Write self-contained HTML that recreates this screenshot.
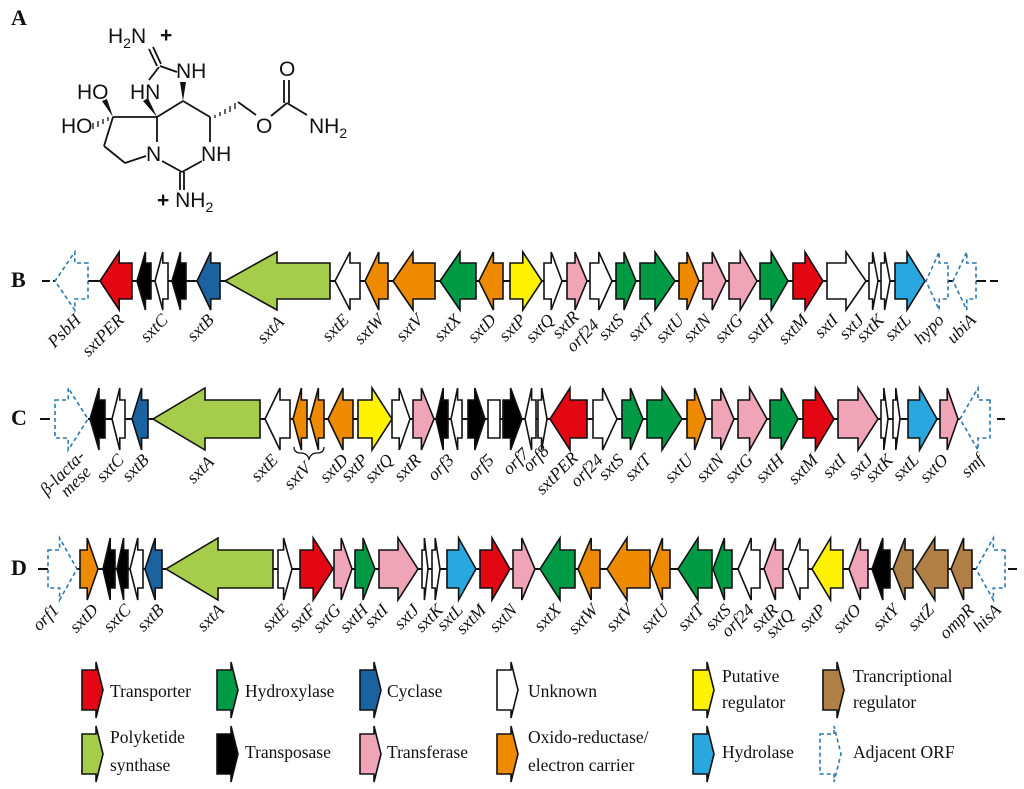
<!DOCTYPE html>
<html><head><meta charset="utf-8">
<style>
html,body{margin:0;padding:0;background:#fff;}
svg{display:block;}
.l{font-family:"Liberation Serif",serif;font-style:italic;font-size:17.5px;fill:#111;}
.lg{font-family:"Liberation Serif",serif;font-size:17.5px;fill:#111;}
.m{font-family:"Liberation Sans",sans-serif;font-size:21px;fill:#111;}
.ms{font-family:"Liberation Sans",sans-serif;font-size:14px;fill:#111;}
.P{font-family:"Liberation Serif",serif;font-weight:bold;font-size:22px;fill:#111;}
</style></head>
<body>
<svg id="s" width="1024" height="789" viewBox="0 0 1024 789" xmlns="http://www.w3.org/2000/svg">
<rect width="1024" height="789" fill="#fff"/>
<text class="P" x="11" y="25">A</text>
<text class="P" x="11" y="287">B</text>
<text class="P" x="11" y="425">C</text>
<text class="P" x="11" y="575">D</text>

<g stroke="#111" stroke-width="1.8" fill="none">
<line x1="149" y1="49" x2="157" y2="66"/><line x1="153" y1="47" x2="161" y2="64"/>
<line x1="160" y1="66" x2="177" y2="72"/>
<line x1="159" y1="67" x2="149" y2="80"/>
<line x1="113" y1="117" x2="157" y2="117"/>
<line x1="157" y1="117" x2="183" y2="101"/>
<line x1="183" y1="101" x2="210" y2="117"/>
<line x1="238" y1="102" x2="256" y2="115"/>
<line x1="271" y1="116" x2="287" y2="103"/>
<line x1="284" y1="103" x2="284" y2="80"/><line x1="289" y1="103" x2="289" y2="80"/>
<line x1="287" y1="103" x2="307" y2="115"/>
<line x1="210" y1="117" x2="210" y2="142"/>
<line x1="157" y1="117" x2="157" y2="142"/>
<line x1="162" y1="161" x2="182" y2="172"/>
<line x1="182" y1="172" x2="202" y2="161"/>
<line x1="180" y1="172" x2="180" y2="190"/><line x1="184" y1="172" x2="184" y2="190"/>
<line x1="113" y1="117" x2="104" y2="146"/>
<line x1="104" y1="146" x2="125" y2="163"/>
<line x1="125" y1="163" x2="146" y2="156"/>
</g>
<polygon points="183,101 180,82 186,82" fill="#111"/>
<polygon points="157,117 143,101 148,98" fill="#111"/>
<polygon points="113,117 102,101 107,99" fill="#111"/>
<g stroke="#111" stroke-width="1.3">
<line x1="108" y1="117" x2="108" y2="121"/><line x1="103" y1="119" x2="103" y2="124"/><line x1="98" y1="121" x2="98" y2="127"/><line x1="93" y1="123" x2="93" y2="129"/>
<line x1="215" y1="115" x2="215" y2="118"/><line x1="220" y1="112" x2="220" y2="116"/><line x1="225" y1="109" x2="225" y2="114"/><line x1="230" y1="106" x2="230" y2="112"/><line x1="235" y1="103" x2="235" y2="109"/>
</g>
<text class="m" x="108" y="43">H<tspan class="ms" dy="5">2</tspan><tspan dy="-5">N</tspan></text><text class="m" x="160" y="42" style="font-weight:bold">+</text>
<text class="m" x="176" y="78">NH</text>
<text class="m" x="130" y="99">HN</text>
<text class="m" x="77" y="99">HO</text>
<text class="m" x="61" y="133">HO</text>
<text class="m" x="256" y="133">O</text>
<text class="m" x="279" y="76">O</text>
<text class="m" x="309" y="133">NH<tspan class="ms" dy="5">2</tspan></text>
<text class="m" x="201" y="161">NH</text>
<text class="m" x="146" y="161">N</text>
<text class="m" x="157" y="207"><tspan style="font-weight:bold">+</tspan> NH<tspan class="ms" dy="5">2</tspan></text>

<g id="genes"></g>

<path d="M294,447 q0,6 7,6 q6,0 8,6 q2,-6 8,-6 q7,0 7,-6" stroke="#111" stroke-width="1.3" fill="none"/>

<g class="l">
<text text-anchor="end" transform="translate(82,321) rotate(-45)">PsbH</text>
<text text-anchor="end" transform="translate(125,321) rotate(-45)">sxtPER</text>
<text text-anchor="end" transform="translate(169,321) rotate(-45)">sxtC</text>
<text text-anchor="end" transform="translate(215,321) rotate(-45)">sxtB</text>
<text text-anchor="end" transform="translate(285,323) rotate(-45)">sxtA</text>
<text text-anchor="end" transform="translate(350,321) rotate(-45)">sxtE</text>
<text text-anchor="end" transform="translate(385,321) rotate(-45)">sxtW</text>
<text text-anchor="end" transform="translate(424,321) rotate(-45)">sxtV</text>
<text text-anchor="end" transform="translate(462,321) rotate(-45)">sxtX</text>
<text text-anchor="end" transform="translate(497,321) rotate(-45)">sxtD</text>
<text text-anchor="end" transform="translate(527,321) rotate(-45)">sxtP</text>
<text text-anchor="end" transform="translate(555,321) rotate(-45)">sxtQ</text>
<text text-anchor="end" transform="translate(580,318) rotate(-45)">sxtR</text>
<text text-anchor="end" transform="translate(600,326) rotate(-45)">orf24</text>
<text text-anchor="end" transform="translate(625,321) rotate(-45)">sxtS</text>
<text text-anchor="end" transform="translate(655,321) rotate(-45)">sxtT</text>
<text text-anchor="end" transform="translate(685,321) rotate(-45)">sxtU</text>
<text text-anchor="end" transform="translate(712,321) rotate(-45)">sxtN</text>
<text text-anchor="end" transform="translate(744,321) rotate(-45)">sxtG</text>
<text text-anchor="end" transform="translate(775,321) rotate(-45)">sxtH</text>
<text text-anchor="end" transform="translate(809,321) rotate(-45)">sxtM</text>
<text text-anchor="end" transform="translate(839,321) rotate(-45)">sxtI</text>
<text text-anchor="end" transform="translate(865,321) rotate(-45)">sxtJ</text>
<text text-anchor="end" transform="translate(885,321) rotate(-45)">sxtK</text>
<text text-anchor="end" transform="translate(912,321) rotate(-45)">sxtL</text>
<text text-anchor="end" transform="translate(945,321) rotate(-45)">hypo</text>
<text text-anchor="end" transform="translate(977,321) rotate(-45)">ubiA</text>
</g>
<g class="l">
<text text-anchor="end" transform="translate(86,457) rotate(-45)">β-lacta-</text>
<text text-anchor="end" transform="translate(92,473) rotate(-45)">mese</text>
<text text-anchor="end" transform="translate(125,461) rotate(-45)">sxtC</text>
<text text-anchor="end" transform="translate(150,461) rotate(-45)">sxtB</text>
<text text-anchor="end" transform="translate(215,463) rotate(-45)">sxtA</text>
<text text-anchor="end" transform="translate(279,461) rotate(-45)">sxtE</text>
<text text-anchor="end" transform="translate(312,469) rotate(-45)">sxtV</text>
<text text-anchor="end" transform="translate(349,461) rotate(-45)">sxtD</text>
<text text-anchor="end" transform="translate(369,461) rotate(-45)">sxtP</text>
<text text-anchor="end" transform="translate(394,461) rotate(-45)">sxtQ</text>
<text text-anchor="end" transform="translate(422,461) rotate(-45)">sxtR</text>
<text text-anchor="end" transform="translate(455,461) rotate(-45)">orf3</text>
<text text-anchor="end" transform="translate(495,461) rotate(-45)">orf5</text>
<text text-anchor="end" transform="translate(530,455) rotate(-45)">orf7</text>
<text text-anchor="end" transform="translate(550,452) rotate(-45)">orf8</text>
<text text-anchor="end" transform="translate(579,459) rotate(-45)">sxtPER</text>
<text text-anchor="end" transform="translate(604,461) rotate(-45)">orf24</text>
<text text-anchor="end" transform="translate(625,461) rotate(-45)">sxtS</text>
<text text-anchor="end" transform="translate(652,461) rotate(-45)">sxtT</text>
<text text-anchor="end" transform="translate(694,461) rotate(-45)">sxtU</text>
<text text-anchor="end" transform="translate(725,461) rotate(-45)">sxtN</text>
<text text-anchor="end" transform="translate(754,461) rotate(-45)">sxtG</text>
<text text-anchor="end" transform="translate(785,461) rotate(-45)">sxtH</text>
<text text-anchor="end" transform="translate(819,461) rotate(-45)">sxtM</text>
<text text-anchor="end" transform="translate(847,461) rotate(-45)">sxtI</text>
<text text-anchor="end" transform="translate(874,461) rotate(-45)">sxtJ</text>
<text text-anchor="end" transform="translate(894,461) rotate(-45)">sxtK</text>
<text text-anchor="end" transform="translate(920,461) rotate(-45)">sxtL</text>
<text text-anchor="end" transform="translate(949,461) rotate(-45)">sxtO</text>
<text text-anchor="end" transform="translate(985,461) rotate(-45)">smf</text>
</g>
<g class="l">
<text text-anchor="end" transform="translate(60,611) rotate(-45)">orf1</text>
<text text-anchor="end" transform="translate(99,611) rotate(-45)">sxtD</text>
<text text-anchor="end" transform="translate(132,611) rotate(-45)">sxtC</text>
<text text-anchor="end" transform="translate(165,611) rotate(-45)">sxtB</text>
<text text-anchor="end" transform="translate(225,611) rotate(-45)">sxtA</text>
<text text-anchor="end" transform="translate(290,611) rotate(-45)">sxtE</text>
<text text-anchor="end" transform="translate(317,611) rotate(-45)">sxtF</text>
<text text-anchor="end" transform="translate(342,611) rotate(-45)">sxtG</text>
<text text-anchor="end" transform="translate(369,611) rotate(-45)">sxtH</text>
<text text-anchor="end" transform="translate(389,611) rotate(-45)">sxtI</text>
<text text-anchor="end" transform="translate(420,611) rotate(-45)">sxtJ</text>
<text text-anchor="end" transform="translate(444,611) rotate(-45)">sxtK</text>
<text text-anchor="end" transform="translate(464,611) rotate(-45)">sxtL</text>
<text text-anchor="end" transform="translate(487,611) rotate(-45)">sxtM</text>
<text text-anchor="end" transform="translate(518,611) rotate(-45)">sxtN</text>
<text text-anchor="end" transform="translate(562,611) rotate(-45)">sxtX</text>
<text text-anchor="end" transform="translate(599,611) rotate(-45)">sxtW</text>
<text text-anchor="end" transform="translate(634,611) rotate(-45)">sxtV</text>
<text text-anchor="end" transform="translate(670,611) rotate(-45)">sxtU</text>
<text text-anchor="end" transform="translate(705,611) rotate(-45)">sxtT</text>
<text text-anchor="end" transform="translate(732,611) rotate(-45)">sxtS</text>
<text text-anchor="end" transform="translate(755,611) rotate(-45)">orf24</text>
<text text-anchor="end" transform="translate(779,611) rotate(-45)">sxtR</text>
<text text-anchor="end" transform="translate(795,616) rotate(-45)">sxtQ</text>
<text text-anchor="end" transform="translate(827,611) rotate(-45)">sxtP</text>
<text text-anchor="end" transform="translate(862,611) rotate(-45)">sxtO</text>
<text text-anchor="end" transform="translate(900,611) rotate(-45)">sxtY</text>
<text text-anchor="end" transform="translate(935,611) rotate(-45)">sxtZ</text>
<text text-anchor="end" transform="translate(975,611) rotate(-45)">ompR</text>
<text text-anchor="end" transform="translate(1002,611) rotate(-45)">hisA</text>
</g>

<g id="legend"></g>
<g class="lg">
<text x="110" y="697">Transporter</text>
<text x="245" y="697">Hydroxylase</text>
<text x="387" y="697">Cyclase</text>
<text x="528" y="697">Unknown</text>
<text x="722" y="682">Putative</text>
<text x="722" y="708">regulator</text>
<text x="853" y="682">Trancriptional</text>
<text x="853" y="708">regulator</text>
<text x="110" y="743">Polyketide</text>
<text x="110" y="771">synthase</text>
<text x="245" y="758">Transposase</text>
<text x="387" y="758">Transferase</text>
<text x="528" y="743">Oxido-reductase/</text>
<text x="528" y="771">electron carrier</text>
<text x="722" y="758">Hydrolase</text>
<text x="853" y="758">Adjacent ORF</text>
</g>
</svg>
<script>
(function(){
var NS="http://www.w3.org/2000/svg";
var C={r:"#e30613",g:"#009a44",b:"#1a63a0",k:"#000",w:"#fff",l:"#a5cc4a",p:"#f0a4b8",o:"#ee8a00",y:"#fff200",c:"#29a8e0",n:"#b07f45",d:"none"};
var G=document.getElementById("genes");
function el(t,a,par){var e=document.createElementNS(NS,t);for(var k in a)e.setAttribute(k,a[k]);(par||G).appendChild(e);return e;}
function line(x1,x2,y){el("line",{x1:x1,x2:x2,y1:y,y2:y,stroke:"#111","stroke-width":2});}
function gene(x1,x2,dir,col,y,bh,hh,rect){
  var w=x2-x1,hl=w>60?52:Math.min(20,w*0.6),pts;
  if(rect){pts=[[x1,y-bh],[x2,y-bh],[x2,y+bh],[x1,y+bh]];}
  else if(dir=="R"){var s=x2-hl;pts=[[x1,y-bh],[s,y-bh],[s,y-hh],[x2,y],[s,y+hh],[s,y+bh],[x1,y+bh]];}
  else{var s=x1+hl;pts=[[x2,y-bh],[s,y-bh],[s,y-hh],[x1,y],[s,y+hh],[s,y+bh],[x2,y+bh]];}
  var a={points:pts.map(function(p){return p.join(",")}).join(" ")};
  if(col=="d"){a.fill="#fff";a.stroke="#2a7ab5";a["stroke-width"]=1.6;a["stroke-dasharray"]="4,3";}
  else{a.fill=C[col];a.stroke="#111";a["stroke-width"]=1.6;a["stroke-linejoin"]="miter";}
  el("polygon",a);
}
function row(y,bh,hh,list){list.forEach(function(g){gene(g[0],g[1],g[2],g[3],y,bh,hh,g[4]);});}
var yB=281;
el("line",{x1:42,x2:50,y1:yB,y2:yB,stroke:"#111","stroke-width":2});
line(53,57,yB);line(88,986,yB);line(990,998,yB);
row(yB,18,29,[[55,88,"L","d"],[100,132,"L","r"],[137,151,"L","k"],[155,168,"L","w"],[172,186,"L","k"],[197,220,"L","b"],
[225,330,"L","l"],[335,360,"L","w"],[365,388,"L","o"],[393,435,"L","o"],[440,476,"L","g"],[479,503,"L","o"],
[510,542,"R","y"],[544,562,"R","w"],[567,587,"R","p"],[590,612,"R","w"],[616,636,"R","g"],[640,675,"R","g"],
[679,699,"R","o"],[703,726,"R","p"],[729,757,"R","p"],[760,788,"R","g"],[793,823,"R","r"],[827,866,"R","w"],
[869,878,"R","w"],[881,890,"R","w"],[895,925,"R","c"],[926,948,"L","d"],[953,976,"L","d"]]);
var yC=419;
line(40,50,yC);line(88,960,yC);line(997,1005,yC);
row(yC,19,31,[[55,88,"R","d"],[90,105,"L","k"],[112,125,"L","w"],[132,148,"L","b"],[153,260,"L","l"],[265,290,"L","w"],
[293,307,"L","o"],[310,324,"L","o"],[328,353,"L","o"],[358,392,"R","y"],[392,410,"R","w"],[413,434,"R","p"],
[436,448,"L","k"],[451,462,"L","w"],[468,485,"R","k"],[488,500,"R","w",1],[503,522,"R","k"],[525,536,"L","w"],
[538,547,"R","w"],[550,587,"L","r"],[593,617,"R","w"],[622,643,"R","g"],[647,682,"R","g"],[687,706,"R","o"],
[712,734,"R","p"],[738,767,"R","p"],[770,798,"R","g"],[803,834,"R","r"],[838,878,"R","p"],[881,888,"R","w"],
[893,900,"R","w"],[908,937,"R","c"],[940,958,"R","p"],[960,990,"L","d"]]);
var yD=569;
line(38,48,yD);line(77,976,yD);line(1008,1017,yD);
row(yD,19,31,[[48,77,"R","d"],[80,98,"R","o"],[103,115,"L","k"],[117,128,"L","k"],[130,143,"L","w"],[145,162,"L","b"],
[166,273,"L","l"],[278,292,"R","w"],[300,333,"R","r"],[334,352,"R","p"],[355,375,"R","g"],[379,418,"R","p"],
[422,428,"R","w"],[432,440,"R","w"],[447,476,"R","c"],[480,510,"R","r"],[513,535,"R","p"],[540,575,"L","g"],
[578,600,"L","o"],[607,650,"L","o"],[651,670,"L","o"],[678,712,"L","g"],[713,732,"L","g"],[738,760,"L","w"],
[764,783,"L","p"],[788,808,"L","w"],[812,843,"L","y"],[849,868,"L","p"],[872,890,"L","k"],[893,913,"L","n"],
[915,948,"L","n"],[951,972,"L","n"],[976,1005,"L","d"]]);
var L=document.getElementById("legend");
function lic(x,cy,col){
  var pts=[[x,cy-20],[x+14,cy-20],[x+14,cy-28],[x+21,cy],[x+14,cy+28],[x+14,cy+20],[x,cy+20]];
  var a={points:pts.map(function(p){return p.join(",")}).join(" ")};
  if(col=="d"){a.fill="#fff";a.stroke="#2a7ab5";a["stroke-width"]=1.6;a["stroke-dasharray"]="4,3";}
  else{a.fill=C[col];a.stroke="#111";a["stroke-width"]=1.6;}
  el("polygon",a,L);
}
lic(82,690,"r");lic(217,690,"g");lic(360,690,"b");lic(497,690,"w");lic(693,690,"y");lic(823,690,"n");
lic(82,754,"l");lic(217,754,"k");lic(360,754,"p");lic(497,754,"o");lic(693,754,"c");lic(820,754,"d");
})();
</script>
</body></html>
